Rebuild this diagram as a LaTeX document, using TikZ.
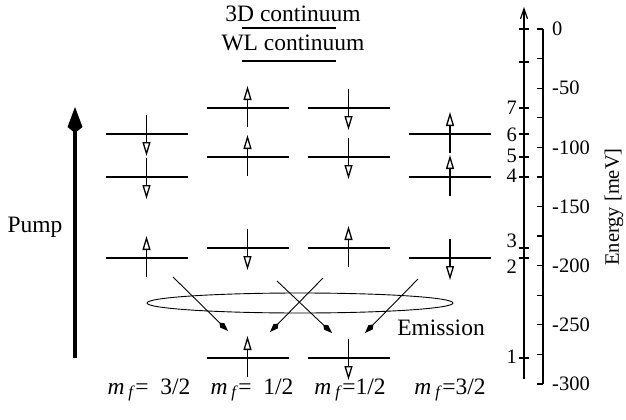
\documentclass[tikz,border=0pt]{standalone}
\usepackage{fontspec}
\setmainfont{Liberation Serif}
\usetikzlibrary{arrows.meta,calc}
\tikzset{lvl/.style={line width=1.4pt},
  spin/.style={line width=1.3pt, -{Triangle[open,length=14pt,width=8pt]}},
  emit/.style={line width=0.9pt, -{Kite[length=12pt,width=6pt,inset=4pt]}},
  tck/.style={line width=1.2pt},
  num/.style={font=\fontsize{20.5}{24}\selectfont, inner sep=0pt}}

\begin{document}
\begin{tikzpicture}[x=1pt,y=-1pt,font=\fontsize{23.5}{28}\selectfont]
  \useasboundingbox (0,0) rectangle (626,420);
  % continua
  \node (c3d) at (293,14) {3D continuum};
  \node (cwl) at (293,43) {WL continuum};
  \draw[lvl] (242,28) -- (336,28);
  \draw[lvl] (242,61) -- (336,61);
  % levels with spins (1 = down, -1 = up)
  \foreach \x/\y/\d in {146.5/134/1, 146.5/177/1, 146.5/258/-1,
      247.5/108/-1, 247.5/157/-1, 247.5/248/1, 247.5/358/-1,
      348.5/108/1, 348.5/157/1, 348.5/248/-1, 348.5/358/1,
      450/134/-1, 450/177/-1, 450/258/1} {
    \draw[lvl] (\x-41,\y) -- (\x+41,\y);
    \draw[spin] (\x,\y-19*\d) -- (\x,\y+22*\d);
  }
  % pump
  \node (pump) at (35,227) {Pump};
  \coordinate (pb) at (75,358);
  \coordinate (pt) at (75,107);
  \draw[line width=3.5pt, -{Kite[length=26pt,width=15pt,inset=6pt]}] (pb) -- (pt);
  % emission
  \draw[line width=0.9pt] (300,303) ellipse [x radius=153, y radius=10];
  \node (em) at (441,328) {Emission};
  \foreach \a/\b/\c/\e in {173/277/228/331, 323/278/270/332,
      277/281/332/333, 418/279/365/333} {
    \coordinate (s) at (\a,\b);
    \coordinate (t) at (\c,\e);
    \draw[emit] (s) -- (t);
  }
  % m_f labels
  \foreach \x/\v in {149/{=~~3/2}, 252/{=~~1/2}, 350/{=1/2}, 450/{=3/2}}
    \node[anchor=base] at (\x,394) {\textit{m}\,\textsubscript{\textit{f}}\v};
  % level axis
  \coordinate (ab) at (524,379);
  \coordinate (at) at (524,7);
  \draw[tck, -{Straight Barb[length=10pt,width=7pt]}] (ab) -- (at);
  \foreach \y in {29,62,108,134,157,177,248,258,358}
    \draw[tck] (519,\y) -- (529,\y);
  \foreach \y/\n in {108/7, 135/6, 156/5, 176/4, 241/3, 267/2, 357/1}
    \node[num, anchor=east] at (517,\y) {\n};
  % energy scale
  \draw[tck] (543,29) -- (543,384);
  \foreach \i in {0,...,12}
    \draw[tck] (537,29+\i*29.58) -- (543,29+\i*29.58);
  \foreach \i/\v in {0/0, 2/-50, 4/-100, 6/-150, 8/-200, 10/-250, 12/-300}
    \node[num, anchor=west] at (552,29+\i*29.58) {\v};
  \node[rotate=90, font=\fontsize{20.5}{24}\selectfont] (ax) at (614,207) {Energy [meV]};
\end{tikzpicture}
\end{document}
